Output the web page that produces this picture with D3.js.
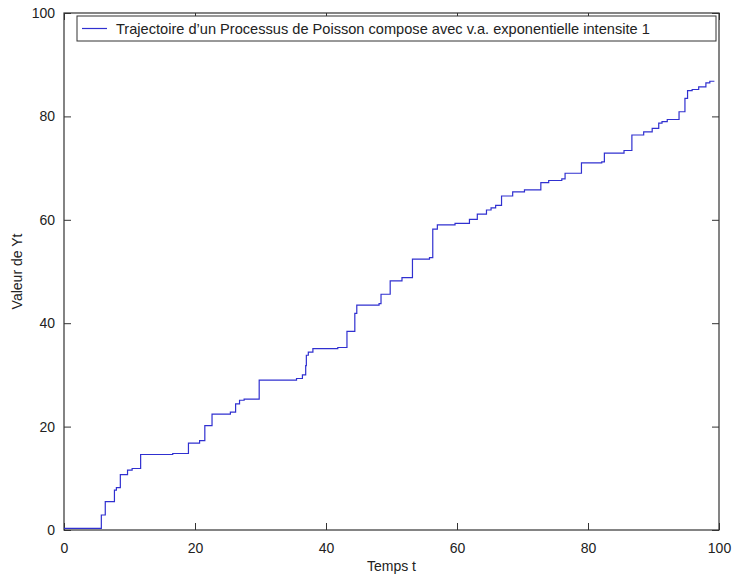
<!DOCTYPE html>
<html>
<head>
<meta charset="utf-8">
<script src="https://cdn.jsdelivr.net/npm/d3@7"></script>
<style>
  body { margin: 0; background: #fff; }
  text { font-family: "Liberation Sans", Arial, sans-serif; fill: #222; }
</style>
</head>
<body>
<div id="chart"></div>
<script>
// trajectory: jump times and value held after each jump
let jumpTimes = [0, 5.7, 6.3, 7.7, 8.0, 8.6, 9.7, 10.4, 11.7, 16.6, 19.0, 20.7, 21.5, 22.6, 25.4,
  26.2, 26.8, 27.5, 29.8, 35.5, 36.4, 36.9, 37.0, 37.3, 38.0, 41.8, 43.2, 44.4, 44.7, 48.1,
  48.4, 49.8, 51.6, 53.2, 55.8, 56.3, 57.0, 59.7, 61.9, 63.1, 64.5, 65.2, 65.9, 66.8, 68.5,
  70.3, 72.8, 74.0, 76.0, 76.5, 79.0, 82.1, 82.5, 85.5, 86.7, 88.5, 89.8, 90.8, 91.3, 92.1,
  93.9, 94.8, 95.2, 95.9, 96.9, 98.0, 98.6, 99.3];
let jumpValues = [0.3, 2.9, 5.5, 7.7, 8.2, 10.7, 11.6, 11.9, 14.6, 14.8, 16.8, 17.3, 20.2, 22.4, 22.8,
  24.4, 25.1, 25.3, 29.0, 29.3, 30.0, 31.8, 33.8, 34.4, 35.1, 35.3, 38.4, 41.9, 43.5, 43.8,
  45.6, 48.2, 48.8, 52.4, 52.7, 58.2, 59.0, 59.3, 60.1, 61.1, 61.9, 62.3, 62.8, 64.6, 65.4,
  65.8, 67.2, 67.6, 67.9, 69.0, 71.0, 71.2, 72.9, 73.4, 76.4, 77.0, 77.7, 78.7, 79.0, 79.4,
  80.9, 83.5, 85.0, 85.2, 85.7, 86.5, 86.8, 86.8];
let xTicks = [0, 20, 40, 60, 80, 100];
let yTicks = [0, 20, 40, 60, 80, 100];
let legendLabel = "Trajectoire d\u2019un Processus de Poisson compose avec v.a. exponentielle intensite 1";

let width = 734, height = 574;
let margin = {top: 13, right: 15, bottom: 44, left: 64};
let w = width - margin.left - margin.right, h = height - margin.top - margin.bottom;

let svg = d3.select("#chart").append("svg")
    .attr("width", width)
    .attr("height", height)
    .append("g")
    .attr("transform", `translate(${margin.left}, ${margin.top})`);

let x = d3.scaleLinear().domain([0, 100]).range([0, w]);
let y = d3.scaleLinear().domain([0, 100]).range([h, 0]);

let data = jumpTimes.map((t, i) => ({t: t, v: jumpValues[i]}));

// axes, matlab style: ticks pointing inward on all four sides
let axisColor = "#333";
function styleAxis(g) {
    g.select(".domain").remove();
    g.selectAll("line").attr("stroke", axisColor);
    g.selectAll("text").style("font-size", "14px").style("fill", "#222");
}
svg.append("g").attr("transform", `translate(0, ${h})`)
    .call(d3.axisBottom(x).tickValues(xTicks).tickSizeInner(-7).tickSizeOuter(0).tickPadding(13))
    .call(styleAxis);
svg.append("g")
    .call(d3.axisTop(x).tickValues(xTicks).tickSizeInner(-7).tickSizeOuter(0).tickFormat(""))
    .call(styleAxis);
svg.append("g")
    .call(d3.axisLeft(y).tickValues(yTicks).tickSizeInner(-7).tickSizeOuter(0).tickPadding(9))
    .call(styleAxis);
svg.append("g").attr("transform", `translate(${w}, 0)`)
    .call(d3.axisRight(y).tickValues(yTicks).tickSizeInner(-7).tickSizeOuter(0).tickFormat(""))
    .call(styleAxis);

svg.append("rect")
    .attr("width", w).attr("height", h)
    .attr("fill", "none").attr("stroke", axisColor).attr("stroke-width", 1.2);

// the trajectory
let line = d3.line()
    .curve(d3.curveStepAfter)
    .x(d => x(d.t))
    .y(d => y(d.v));
svg.append("path")
    .datum(data)
    .attr("fill", "none")
    .attr("stroke", "#3030d0")
    .attr("stroke-width", 1.2)
    .attr("d", line);

// axis labels
svg.append("text")
    .attr("x", w / 2).attr("y", h + 41)
    .style("text-anchor", "middle").style("font-size", "14px")
    .text("Temps t");
svg.append("text")
    .attr("transform", `translate(${-42}, ${h / 2}) rotate(-90)`)
    .style("text-anchor", "middle").style("font-size", "14px")
    .text("Valeur de Yt");

// legend
let legend = svg.append("g").attr("transform", `translate(${13}, ${3})`);
legend.append("rect")
    .attr("width", w - 16).attr("height", 25)
    .attr("fill", "#fff").attr("stroke", axisColor).attr("stroke-width", 1);
legend.append("line")
    .attr("x1", 5).attr("x2", 30).attr("y1", 12.5).attr("y2", 12.5)
    .attr("stroke", "#3030d0").attr("stroke-width", 1.2);
legend.append("text")
    .attr("x", 39).attr("y", 17.5)
    .style("font-size", "14.6px")
    .text(legendLabel);
</script>
</body>
</html>
